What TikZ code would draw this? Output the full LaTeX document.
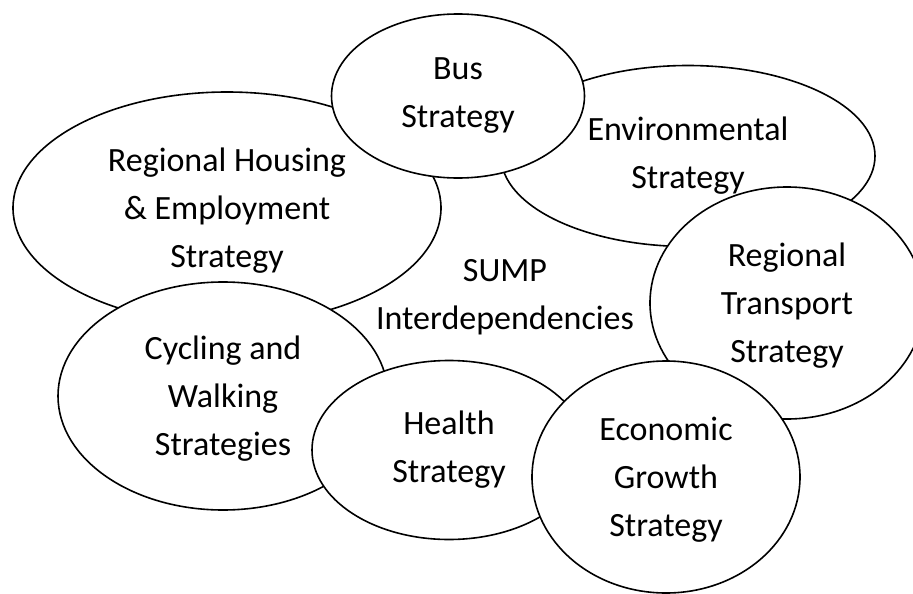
\documentclass[tikz,border=0pt]{standalone}
\usepackage{fontspec}
\setmainfont{Carlito}
\usetikzlibrary{shapes.geometric}
\begin{document}
\begin{tikzpicture}[x=1pt,y=-1pt,
  blob/.style={ellipse, draw=black, line width=1.6pt, fill=white, inner sep=0pt, align=center, font=\fontsize{34}{48}\selectfont},
  threeline/.style={text depth=0pt},
  plain/.style={align=center, inner sep=0pt, font=\fontsize{34}{48}\selectfont}
]
\useasboundingbox (0,0) rectangle (913,594);
\clip (0,0) rectangle (913,594);
\node[blob, threeline, minimum width=428pt, minimum height=232pt] (housing) at (227,208) {Regional Housing\\ \& Employment\\ Strategy};
\node[blob, minimum width=374pt, minimum height=181pt] (env) at (688,156) {Environmental\\ Strategy};
\node[blob, minimum width=253pt, minimum height=164pt] (bus) at (458,96) {Bus\\ Strategy};
\node[blob, threeline, minimum width=274pt, minimum height=232pt] (transport) at (787,303) {Regional\\ Transport\\ Strategy};
\node[blob, threeline, minimum width=330pt, minimum height=228pt] (cycling) at (223,396) {Cycling and\\ Walking\\ Strategies};
\node[blob, minimum width=274pt, minimum height=179pt] (health) at (449,450) {Health\\ Strategy};
\node[blob, threeline, minimum width=268pt, minimum height=232pt] (econ) at (666,477) {Economic\\ Growth\\ Strategy};
\node[plain] (sump) at (505,297) {SUMP\\ Interdependencies};
\end{tikzpicture}
\end{document}
